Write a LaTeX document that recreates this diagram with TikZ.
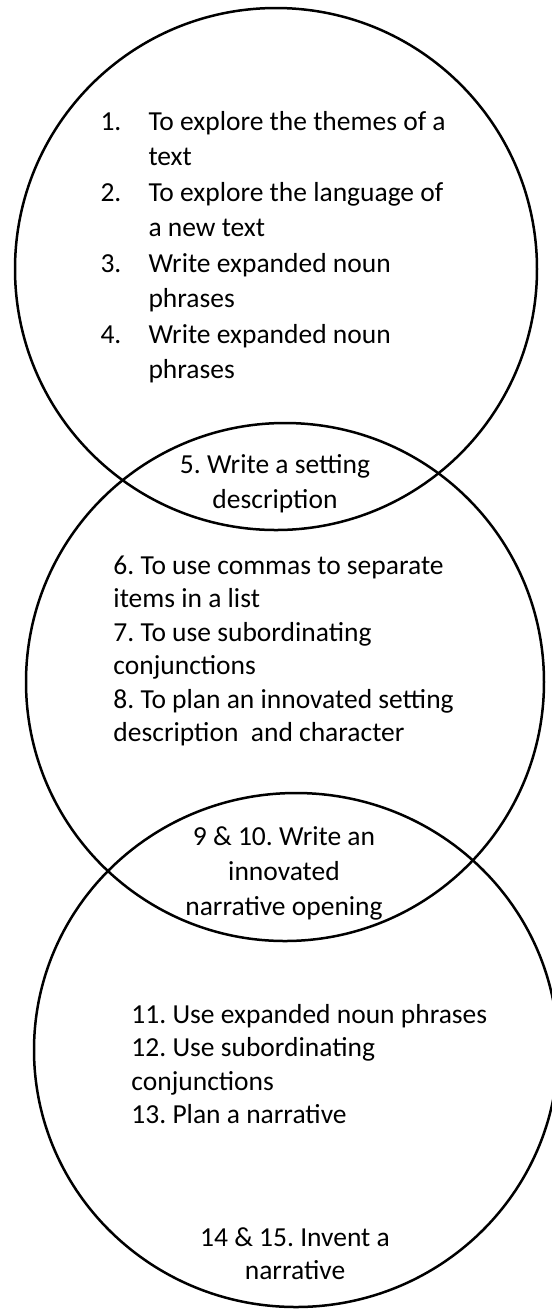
\documentclass[tikz,border=0pt]{standalone}
\usepackage{fontspec}
\setmainfont{Carlito}
\usetikzlibrary{positioning}
\frenchspacing

\begin{document}
\begin{tikzpicture}[x=0.4pt,y=-0.4pt,
    ring/.style={line width=1pt},
    txt/.style={inner sep=0pt, font=\fontsize{11}{13.4}\selectfont}]
    % page frame (pixel units, y downwards)
    \clip (0,0) rectangle (552,1309);
    \useasboundingbox (0,0) rectangle (552,1309);

    % three overlapping circles
    \draw[ring] (276,269) ellipse (261 and 261);
    \draw[ring] (285,682) ellipse (259 and 259);
    \draw[ring] (296,1050) ellipse (262 and 257);

    % top circle: numbered list with hanging indent
    \foreach \num/\words [count=\i from 0] in {1./To explore the themes of a, /text, 2./To explore the language of, /a new text, 3./Write expanded noun, /phrases, 4./Write expanded noun, /phrases} {
        \pgfmathsetmacro\yy{130 + 35.5*\i}
        \node[txt, anchor=base west] (num-\i) at (100,\yy) {\num};
        \node[txt, anchor=base west] (goal-\i) at (148,\yy) {\words};
    }

    % overlap 1-2
    \foreach \words [count=\i from 0] in {5. Write a setting, description} {
        \node[txt, anchor=base] (lensA-\i) at (275, 473 + 35*\i) {\words};
    }

    % middle circle
    \foreach \words [count=\i from 0] in {6. To use commas to separate, items in a list, 7. To use subordinating, conjunctions, 8. To plan an innovated setting, description~ and character} {
        \node[txt, anchor=base west] (mid-\i) at (113, 574 + 33.5*\i) {\words};
    }

    % overlap 2-3
    \foreach \words [count=\i from 0] in {9 \& 10. Write an, innovated, narrative opening} {
        \node[txt, anchor=base] (lensB-\i) at (284, 845 + 35*\i) {\words};
    }

    % bottom circle
    \foreach \words [count=\i from 0] in {11. Use expanded noun phrases, 12. Use subordinating, conjunctions, 13. Plan a narrative} {
        \node[txt, anchor=base west] (low-\i) at (131, 1023 + 33.5*\i) {\words};
    }
    \foreach \words [count=\i from 0] in {14 \& 15. Invent a, narrative} {
        \node[txt, anchor=base] (last-\i) at (295, 1246 + 33.5*\i) {\words};
    }
\end{tikzpicture}
\end{document}
